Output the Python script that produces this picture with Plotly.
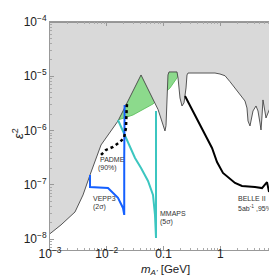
import numpy as np
import plotly.graph_objects as go

# ---- data (log10 of mass in GeV, log10 of epsilon^2) ----
excl_logm = [-3.0, -2.806, -2.559, -2.418, -2.295, -2.189, -2.101, -1.802, -1.396,
             -1.097, -1.009, -0.974, -0.956, -0.938, -0.921, -0.903, -0.762, -0.744,
             -0.709, -0.674, -0.639, -0.603, -0.586, -0.568, -0.093, -0.005, 0.084,
             0.172, 0.26, 0.348, 0.436, 0.471, 0.489, 0.524, 0.542, 0.577, 0.63, 0.665,
             0.7, 0.718, 0.736, 0.753, 0.771, 0.806, 0.842, 0.877, 0.93, 0.952, 0.952, -3.0]
excl_logeps2 = [-7.9, -7.738, -7.499, -7.186, -6.818, -6.505, -6.265, -5.823, -4.976,
                -5.61, -5.9, -6.007, -5.91, -5.49, -4.976, -4.92, -4.92, -5.03,
                -5.4, -5.547, -5.49, -5.215, -4.976, -4.94, -4.94, -4.958, -4.99,
                -5.1, -5.215, -5.326, -5.455, -5.584, -5.823, -5.915, -5.805, -5.639, -5.547, -5.639,
                -5.86, -5.989, -5.73, -5.436, -5.547, -5.768, -5.676, -5.584, -5.344, -4.976, -4.0, -4.0]

green_logm = [-1.86, -1.802, -1.537, -1.308, -1.185, -0.885, -0.762, -0.70, -0.70, -1.86]
green_logeps2 = [-5.86, -5.805, -5.713, -5.584, -5.51, -5.215, -5.03, -4.9, -4.2, -4.2]

vepp3_logm = [-2.295, -2.295, -1.978, -1.802, -1.714, -1.692, -1.692, -1.685]
vepp3_logeps2 = [-6.818, -7.04, -7.057, -7.24, -7.425, -7.554, -6.5, -5.53]

padme_logm = [-2.101, -2.013, -1.89, -1.767, -1.696, -1.661, -1.652, -1.643]
padme_logeps2 = [-6.449, -6.357, -6.302, -6.21, -6.136, -5.952, -5.676, -5.49]

mmaps_logm = [-1.802, -1.661, -1.502, -1.396, -1.273, -1.185, -1.15, -1.132, -1.132]
mmaps_logeps2 = [-5.805, -6.136, -6.505, -6.689, -6.928, -7.186, -7.554, -7.978, -5.64]

belle_logm = [-0.621, -0.145, -0.057, 0.048, 0.26, 0.383, 0.612, 0.736, 0.824, 0.859, 0.894, 0.93, 0.947]
belle_logeps2 = [-5.363, -6.32, -6.58, -6.78, -6.965, -7.02, -7.04, -7.06, -6.95, -7.13, -7.0, -6.27, -5.16]

x_tickvals = [1e-3, 1e-2, 0.1, 1, 10]
x_ticktext = ["10<sup>−3</sup>", "10<sup>−2</sup>", "0.1", "1", "10"]
y_tickvals = [1e-8, 1e-7, 1e-6, 1e-5, 1e-4]
y_ticktext = ["10<sup>−8</sup>", "10<sup>−7</sup>", "10<sup>−6</sup>", "10<sup>−5</sup>", "10<sup>−4</sup>"]


def p(a):
    return 10 ** np.array(a)


fig = go.Figure()
fig.add_trace(go.Scatter(x=p(green_logm), y=p(green_logeps2), fill="toself",
                         fillcolor="rgba(140,218,140,1)", mode="lines",
                         line=dict(color="#55bb55", width=0.8), hoverinfo="skip"))
fig.add_trace(go.Scatter(x=p(excl_logm), y=p(excl_logeps2), fill="toself",
                         fillcolor="#d9d9d9", mode="lines",
                         line=dict(color="#444444", width=0.9), hoverinfo="skip"))
fig.add_trace(go.Scatter(x=p(mmaps_logm), y=p(mmaps_logeps2), mode="lines",
                         line=dict(color="#3cc6c0", width=2)))
fig.add_trace(go.Scatter(x=p(vepp3_logm), y=p(vepp3_logeps2), mode="lines",
                         line=dict(color="#1560ff", width=2)))
fig.add_trace(go.Scatter(x=p(padme_logm), y=p(padme_logeps2), mode="lines",
                         line=dict(color="black", width=2.5, dash="dot")))
fig.add_trace(go.Scatter(x=p(belle_logm), y=p(belle_logeps2), mode="lines",
                         line=dict(color="black", width=2)))

minor_x = [k * 10 ** e for e in range(-3, 1) for k in range(2, 10)]
minor_y = [k * 10 ** e for e in range(-9, -4) for k in range(2, 10)]
axis_common = dict(showgrid=False, zeroline=False, showline=True, linecolor="#999999",
                   linewidth=1, mirror="allticks", ticks="inside", ticklen=4,
                   tickcolor="#999999", automargin=False,
                   tickfont=dict(family="Liberation Sans", size=12, color="#222"))
fig.update_xaxes(type="log", range=[-3, 1], tickmode="array", tickvals=x_tickvals,
                 ticktext=x_ticktext, ticklabelstandoff=-7,
                 minor=dict(tickmode="array", tickvals=minor_x, ticks="inside", ticklen=2,
                            tickcolor="#aaaaaa"), **axis_common)
fig.update_yaxes(type="log", range=[-8.2, -4], tickmode="array", tickvals=y_tickvals,
                 ticktext=y_ticktext,
                 minor=dict(tickmode="array", tickvals=minor_y, ticks="inside", ticklen=2,
                            tickcolor="#aaaaaa"), **axis_common)

# label positions in paper coordinates
lab = dict(family="Liberation Sans", size=7, color="#333")
ann = [
    dict(x=0.211, y=0.395, text="PADME", xanchor="left"),
    dict(x=0.203, y=0.360, text="(90%)", xanchor="left"),
    dict(x=0.181, y=0.224, text="VEPP3", xanchor="left"),
    dict(x=0.181, y=0.189, text="(2σ)", xanchor="left"),
    dict(x=0.476, y=0.158, text="MMAPS", xanchor="left"),
    dict(x=0.476, y=0.123, text="(5σ)", xanchor="left"),
    dict(x=0.892, y=0.228, text="BELLE II", xanchor="center"),
    dict(x=0.905, y=0.184, text="5ab<sup>-1</sup> ,95%", xanchor="center"),
]
for a in ann:
    fig.add_annotation(xref="paper", yref="paper", showarrow=False, yanchor="middle", font=lab, **a)

fig.add_annotation(xref="paper", yref="paper", x=0.507, y=-0.088, showarrow=False,
                   text="<i>m</i><sub><i>A'</i></sub> [GeV]", xanchor="center", yanchor="middle",
                   font=dict(family="Liberation Sans", size=11.5, color="#222"))
fig.add_annotation(xref="paper", yref="paper", x=-0.141, y=0.513, showarrow=False,
                   text="<i>ε</i><sup>2</sup>", textangle=-90, xanchor="center", yanchor="middle",
                   font=dict(family="Liberation Sans", size=13, color="#222"))

fig.update_layout(width=277, height=276, margin=dict(l=42, r=8, t=14, b=34),
                  plot_bgcolor="white", paper_bgcolor="white", showlegend=False)
fig.write_html("out.html")
